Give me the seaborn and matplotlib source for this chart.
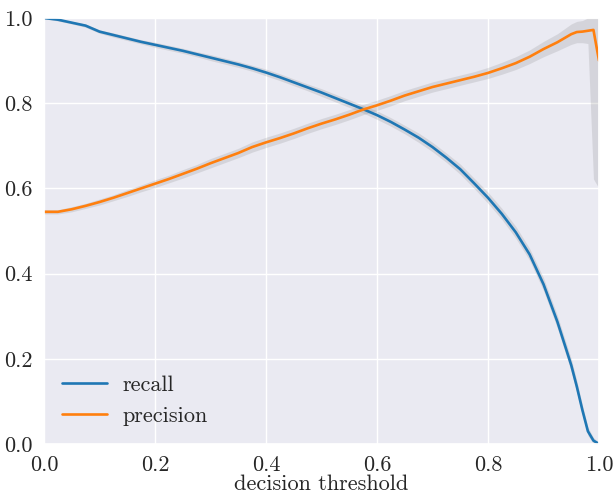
import os
import numpy as np
import pandas as pd
import matplotlib
matplotlib.use("Agg")
import matplotlib.pyplot as plt
from matplotlib import font_manager as fm
import seaborn as sns

thresholds = [0.000, 0.025, 0.050, 0.075, 0.100, 0.125, 0.150, 0.175, 0.200, 0.225,
              0.250, 0.275, 0.300, 0.325, 0.350, 0.375, 0.400, 0.425, 0.450, 0.475,
              0.500, 0.525, 0.550, 0.575, 0.600, 0.625, 0.650, 0.675, 0.700, 0.725,
              0.750, 0.775, 0.800, 0.825, 0.850, 0.875, 0.900, 0.925, 0.950, 0.960,
              0.970, 0.980, 0.990, 1.000]
recall = [1.000, 0.996, 0.989, 0.982, 0.968, 0.960, 0.952, 0.944, 0.937, 0.930,
          0.923, 0.915, 0.907, 0.899, 0.891, 0.882, 0.872, 0.861, 0.849, 0.837,
          0.825, 0.812, 0.799, 0.786, 0.772, 0.756, 0.738, 0.719, 0.697, 0.672,
          0.645, 0.612, 0.578, 0.540, 0.497, 0.445, 0.375, 0.287, 0.185, 0.135,
          0.080, 0.030, 0.008, 0.000]
precision = [0.545, 0.545, 0.551, 0.559, 0.568, 0.578, 0.589, 0.600, 0.611, 0.622,
             0.634, 0.646, 0.659, 0.671, 0.683, 0.697, 0.708, 0.718, 0.729, 0.741,
             0.752, 0.762, 0.773, 0.785, 0.795, 0.806, 0.818, 0.828, 0.838, 0.846,
             0.854, 0.862, 0.871, 0.882, 0.894, 0.909, 0.927, 0.943, 0.962, 0.967,
             0.968, 0.970, 0.972, 0.900]
recall_err = [0.002, 0.003, 0.003, 0.004, 0.004, 0.005, 0.005, 0.005, 0.006, 0.006,
              0.006, 0.006, 0.007, 0.007, 0.007, 0.007, 0.008, 0.008, 0.008, 0.008,
              0.009, 0.009, 0.009, 0.009, 0.010, 0.010, 0.010, 0.011, 0.011, 0.011,
              0.012, 0.012, 0.013, 0.013, 0.014, 0.014, 0.015, 0.015, 0.015, 0.014,
              0.012, 0.010, 0.007, 0.004]
precision_err = [0.005, 0.005, 0.006, 0.006, 0.007, 0.007, 0.008, 0.008, 0.009, 0.009,
                 0.010, 0.010, 0.011, 0.011, 0.011, 0.012, 0.012, 0.012, 0.012, 0.012,
                 0.012, 0.012, 0.012, 0.012, 0.012, 0.012, 0.012, 0.012, 0.012, 0.012,
                 0.012, 0.012, 0.013, 0.014, 0.015, 0.016, 0.018, 0.020, 0.024, 0.025,
                 0.026, 0.030, 0.350, 0.300]

sns.set_theme(style="darkgrid")
cm_path = os.path.join(matplotlib.get_data_path(), "fonts", "ttf", "cmr10.ttf")
if os.path.exists(cm_path):
    fm.fontManager.addfont(cm_path)
plt.rcParams["font.family"] = ["cmr10", "DejaVu Serif"]
plt.rcParams["axes.formatter.use_mathtext"] = True
plt.rcParams["mathtext.fontset"] = "cm"

df = pd.DataFrame({
    "decision threshold": thresholds * 2,
    "value": recall + precision,
    "metric": ["recall"] * len(thresholds) + ["precision"] * len(thresholds),
})

fig, ax = plt.subplots(figsize=(6.16, 4.94), dpi=100)
fig.subplots_adjust(left=0.0714, right=0.9724, top=0.9636, bottom=0.1012)

r = np.array(recall)
re = np.array(recall_err)
p = np.array(precision)
pe = np.array(precision_err)
ax.fill_between(thresholds, r - re, r + re, color="gray", alpha=0.2, lw=0)
ax.fill_between(thresholds, p - pe, np.minimum(p + pe, 1.0), color="gray", alpha=0.2, lw=0)

sns.lineplot(data=df, x="decision threshold", y="value", hue="metric",
             palette=["#1f77b4", "#ff7f0e"], linewidth=1.9, ax=ax)

ticks = [0, 0.2, 0.4, 0.6, 0.8, 1.0]
tick_labels = ["0.0", "0.2", "0.4", "0.6", "0.8", "1.0"]
ax.set_xlim(0, 1)
ax.set_ylim(0, 1)
ax.set_xticks(ticks)
ax.set_yticks(ticks)
ax.set_xticklabels(tick_labels)
ax.set_yticklabels(tick_labels)
ax.tick_params(labelsize=16, pad=2)
ax.set_xlabel("decision threshold", fontsize=16, labelpad=0)
ax.set_ylabel("")
ax.legend(loc="lower left", frameon=False, fontsize=16, handlelength=2.0,
          handletextpad=0.7, borderaxespad=0.42, title=None)

fig.savefig("out.png", dpi=100)
